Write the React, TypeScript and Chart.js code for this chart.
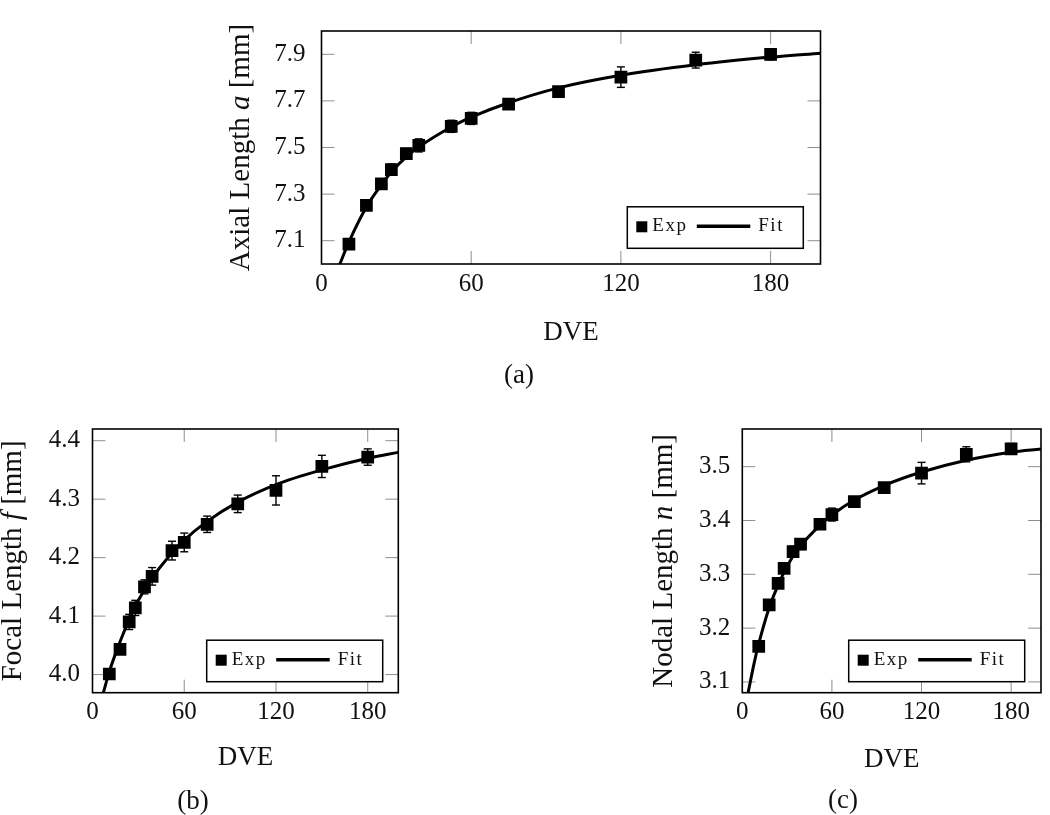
import React, { useEffect, useRef } from "react";
import { Chart, registerables } from "chart.js";

Chart.register(...registerables);

// ---------------- data ----------------
const dve = [11, 18, 24, 28, 34, 39, 52, 60, 75, 95, 120, 150, 180];
const xTicks = [0, 60, 120, 180];

const axialExp = [7.085, 7.252, 7.344, 7.405, 7.474, 7.509, 7.591, 7.625, 7.686, 7.74, 7.802, 7.875, 7.9];
const axialErr = [0.008, 0.01, 0.012, 0.024, 0.022, 0.028, 0.026, 0.026, 0.02, 0.018, 0.044, 0.034, 0.024];
const axialFitX = [7, 11, 18, 24, 28, 34, 39, 52, 60, 75, 95, 120, 150, 180, 200];
const axialFitY = [6.99, 7.095, 7.245, 7.34, 7.395, 7.46, 7.502, 7.588, 7.63, 7.692, 7.756, 7.81, 7.855, 7.888, 7.905];
const axialTicks = [7.1, 7.3, 7.5, 7.7, 7.9];

const focalExp = [4.001, 4.043, 4.09, 4.114, 4.15, 4.168, 4.212, 4.226, 4.257, 4.292, 4.315, 4.356, 4.372];
const focalErr = [0.004, 0.005, 0.013, 0.013, 0.012, 0.015, 0.016, 0.016, 0.014, 0.015, 0.025, 0.019, 0.014];
const focalFitX = [7, 11, 18, 24, 30, 40, 52, 60, 75, 95, 120, 150, 180, 200];
const focalFitY = [3.968, 4.005, 4.056, 4.094, 4.127, 4.169, 4.208, 4.23, 4.262, 4.295, 4.325, 4.35, 4.37, 4.38];
const focalTicks = [4.0, 4.1, 4.2, 4.3, 4.4];

const nodalExp = [3.166, 3.243, 3.283, 3.311, 3.342, 3.356, 3.393, 3.411, 3.435, 3.461, 3.488, 3.523, 3.533];
const nodalErr = [0.004, 0.005, 0.006, 0.008, 0.01, 0.01, 0.008, 0.012, 0.008, 0.008, 0.02, 0.014, 0.01];
const nodalFitX = [3.9, 8, 11, 18, 24, 28, 34, 39, 52, 60, 75, 95, 120, 150, 180, 200];
const nodalFitY = [3.08, 3.136, 3.171, 3.238, 3.28, 3.304, 3.334, 3.353, 3.391, 3.41, 3.438, 3.465, 3.49, 3.512, 3.527, 3.533];
const nodalTicks = [3.1, 3.2, 3.3, 3.4, 3.5];

// ---------------- layout / style ----------------
const W = 1050;
const H = 815;
const FONT = "'Liberation Serif', 'Times New Roman', serif";
const TICK_SIZE = 25;
const XTITLE_SIZE = 27;
const YTITLE_SIZE = 29;

type Panel = {
  key: string;
  exp: number[];
  err: number[];
  fitX: number[];
  fitY: number[];
  yTicks: number[];
  yMin: number;
  yMax: number;
  title: [string, boolean][];
  plot: { l: number; t: number; r: number; b: number };
  yTitleX: number;
  xTitleY: number;
  yTickPad: number;
  xTickPad: number;
  legendRight: number;
  legendBottom: number;
  caption: string;
  capX: number;
  capY: number;
};

const panels: Panel[] = [
  {
    key: "a",
    exp: axialExp,
    err: axialErr,
    fitX: axialFitX,
    fitY: axialFitY,
    yTicks: axialTicks,
    yMin: 7.0,
    yMax: 8.0,
    title: [["Axial Length ", false], ["a", true], [" [mm]", false]],
    plot: { l: 321.5, t: 1, r: 820.5, b: 264 },
    yTitleX: 241.5,
    xTitleY: 333,
    yTickPad: 16,
    xTickPad: 5,
    legendRight: 17.2,
    legendBottom: 15.7,
    caption: "(a)",
    capX: 519,
    capY: 377,
  },
  {
    key: "b",
    exp: focalExp,
    err: focalErr,
    fitX: focalFitX,
    fitY: focalFitY,
    yTicks: focalTicks,
    yMin: 3.969,
    yMax: 4.42,
    title: [["Focal Length ", false], ["f", true], [" [mm]", false]],
    plot: { l: 92.5, t: 429, r: 398.3, b: 692.7 },
    yTitleX: 13.5,
    xTitleY: 758,
    yTickPad: 12.5,
    xTickPad: 5,
    legendRight: 15.6,
    legendBottom: 11,
    caption: "(b)",
    capX: 193,
    capY: 803,
  },
  {
    key: "c",
    exp: nodalExp,
    err: nodalErr,
    fitX: nodalFitX,
    fitY: nodalFitY,
    yTicks: nodalTicks,
    yMin: 3.08,
    yMax: 3.57,
    title: [["Nodal Length ", false], ["n", true], [" [mm]", false]],
    plot: { l: 742.3, t: 429, r: 1049, b: 692.7 },
    yTitleX: 664,
    xTitleY: 760,
    yTickPad: 12,
    xTickPad: 5,
    legendRight: 16.3,
    legendBottom: 11,
    caption: "(c)",
    capX: 843,
    capY: 802,
  },
];

function seg(ctx: CanvasRenderingContext2D, x1: number, y1: number, x2: number, y2: number) {
  ctx.beginPath();
  ctx.moveTo(x1, y1);
  ctx.lineTo(x2, y2);
  ctx.stroke();
}

function panelPlugin(p: Panel) {
  return {
    id: "panel-" + p.key,
    beforeDatasetsDraw(chart: any) {
      const { ctx, chartArea: a, scales } = chart;
      const xs = scales.x;
      const ys = scales.y;
      ctx.save();
      // inward ticks on all sides
      ctx.strokeStyle = "#8f8f8f";
      ctx.lineWidth = 1;
      const TL = 13;
      for (const v of xTicks) {
        const px = xs.getPixelForValue(v);
        seg(ctx, px, a.bottom, px, a.bottom - TL);
        seg(ctx, px, a.top, px, a.top + TL);
      }
      for (const v of p.yTicks) {
        const py = ys.getPixelForValue(v);
        seg(ctx, a.left, py, a.left + TL, py);
        seg(ctx, a.right, py, a.right - TL, py);
      }
      // error bars
      ctx.strokeStyle = "#000";
      ctx.lineWidth = 1.4;
      dve.forEach((d, i) => {
        const px = xs.getPixelForValue(d);
        const y1 = ys.getPixelForValue(p.exp[i] + p.err[i]);
        const y2 = ys.getPixelForValue(p.exp[i] - p.err[i]);
        seg(ctx, px, y1, px, y2);
        seg(ctx, px - 4, y1, px + 4, y1);
        seg(ctx, px - 4, y2, px + 4, y2);
      });
      ctx.restore();
    },
    afterDatasetsDraw(chart: any) {
      const { ctx, chartArea: a } = chart;
      ctx.save();
      // frame
      ctx.strokeStyle = "#000";
      ctx.lineWidth = 1.6;
      ctx.strokeRect(a.left, a.top, a.right - a.left, a.bottom - a.top);
      // y title with italic variable
      const fontFor = (it: boolean) => `${it ? "italic " : ""}${YTITLE_SIZE}px ${FONT}`;
      let total = 0;
      for (const [t, it] of p.title) {
        ctx.font = fontFor(it);
        total += ctx.measureText(t).width;
      }
      const cy = (a.top + a.bottom) / 2;
      ctx.translate(p.yTitleX, cy);
      ctx.rotate(-Math.PI / 2);
      ctx.fillStyle = "#111";
      ctx.textBaseline = "middle";
      ctx.textAlign = "left";
      let x = -total / 2;
      for (const [t, it] of p.title) {
        ctx.font = fontFor(it);
        ctx.fillText(t, x, 0);
        x += ctx.measureText(t).width;
      }
      ctx.restore();
    },
    afterDraw(chart: any) {
      const { ctx, chartArea: a } = chart;
      const bw = 176;
      const bh = 41.5;
      const x0 = a.right - p.legendRight - bw;
      const y0 = a.bottom - p.legendBottom - bh;
      ctx.save();
      ctx.fillStyle = "#fff";
      ctx.fillRect(x0, y0, bw, bh);
      ctx.strokeStyle = "#000";
      ctx.lineWidth = 1.5;
      ctx.strokeRect(x0, y0, bw, bh);
      const expDs = chart.data.datasets[0];
      const fitDs = chart.data.datasets[1];
      // marker
      ctx.fillStyle = expDs.backgroundColor;
      ctx.fillRect(x0 + 9, y0 + 14.5, 11, 11);
      // line
      ctx.strokeStyle = fitDs.borderColor;
      ctx.lineWidth = 3.5;
      seg(ctx, x0 + 69.5, y0 + 19.5, x0 + 123, y0 + 19.5);
      // text
      ctx.fillStyle = "#111";
      ctx.font = `19px ${FONT}`;
      (ctx as any).letterSpacing = "1.5px";
      ctx.textBaseline = "alphabetic";
      ctx.textAlign = "left";
      ctx.fillText(expDs.label, x0 + 25, y0 + 24.5);
      ctx.fillText(fitDs.label, x0 + 131, y0 + 24.5);
      ctx.restore();
    },
  };
}

function makeChart(canvas: HTMLCanvasElement, p: Panel) {
  const xlh = XTITLE_SIZE * 1.2;
  const xAxisH = p.xTitleY + xlh / 2 - p.plot.b;
  return new Chart(canvas, {
    type: "scatter",
    data: {
      datasets: [
        {
          label: "Exp",
          data: dve.map((x, i) => ({ x, y: p.exp[i] })),
          pointStyle: "rect",
          pointRadius: 9,
          pointHoverRadius: 9,
          backgroundColor: "#000",
          borderColor: "#000",
          borderWidth: 0,
          showLine: false,
        },
        {
          label: "Fit",
          data: p.fitX.map((x, i) => ({ x, y: p.fitY[i] })),
          showLine: true,
          borderColor: "#000",
          backgroundColor: "#000",
          borderWidth: 3,
          pointRadius: 0,
          pointHoverRadius: 0,
          cubicInterpolationMode: "monotone",
          fill: false,
        },
      ],
    } as any,
    options: {
      responsive: false,
      animation: false,
      devicePixelRatio: 1,
      events: [],
      layout: {
        padding: {
          left: 0,
          top: p.plot.t,
          right: W - p.plot.r,
          bottom: H - p.plot.b - xAxisH,
        },
      },
      plugins: {
        legend: { display: false },
        tooltip: { enabled: false },
      },
      scales: {
        x: {
          type: "linear",
          position: "bottom",
          min: 0,
          max: 200,
          grid: { display: false, drawTicks: false },
          border: { display: false },
          afterBuildTicks: (s: any) => {
            s.ticks = xTicks.map((v) => ({ value: v }));
          },
          afterFit: (s: any) => {
            s.height = xAxisH;
          },
          ticks: {
            padding: p.xTickPad,
            autoSkip: false,
            maxRotation: 0,
            color: "#111",
            font: { family: FONT, size: TICK_SIZE },
            callback: (v: any) => String(v),
          },
          title: {
            display: true,
            text: "DVE",
            color: "#111",
            padding: 0,
            font: { family: FONT, size: XTITLE_SIZE },
          },
        },
        y: {
          type: "linear",
          position: "left",
          min: p.yMin,
          max: p.yMax,
          grid: { display: false, drawTicks: false },
          border: { display: false },
          afterBuildTicks: (s: any) => {
            s.ticks = p.yTicks.map((v) => ({ value: v }));
          },
          afterFit: (s: any) => {
            s.width = p.plot.l;
          },
          ticks: {
            padding: p.yTickPad,
            autoSkip: false,
            color: "#111",
            font: { family: FONT, size: TICK_SIZE },
            callback: (v: any) => Number(v).toFixed(1),
          },
        },
      },
    } as any,
    plugins: [panelPlugin(p)],
  });
}

function PanelCanvas({ p }: { p: Panel }) {
  const ref = useRef<HTMLCanvasElement | null>(null);
  useEffect(() => {
    if (!ref.current) return;
    const c = makeChart(ref.current, p);
    return () => c.destroy();
  }, [p]);
  return (
    <canvas
      ref={ref}
      width={W}
      height={H}
      style={{ position: "absolute", left: 0, top: 0, width: W, height: H }}
    />
  );
}

export default function App() {
  return (
    <div
      style={{
        position: "fixed",
        left: 0,
        top: 0,
        width: W,
        height: H,
        background: "#fff",
        overflow: "hidden",
      }}
    >
      {panels.map((p) => (
        <PanelCanvas key={p.key} p={p} />
      ))}
      {panels.map((p) => (
        <div
          key={"cap-" + p.key}
          style={{
            position: "absolute",
            left: p.capX,
            top: p.capY - 3,
            transform: "translate(-50%, -50%)",
            fontFamily: FONT,
            fontSize: 27,
            lineHeight: 1,
            color: "#111",
            whiteSpace: "nowrap",
          }}
        >
          {p.caption}
        </div>
      ))}
    </div>
  );
}
